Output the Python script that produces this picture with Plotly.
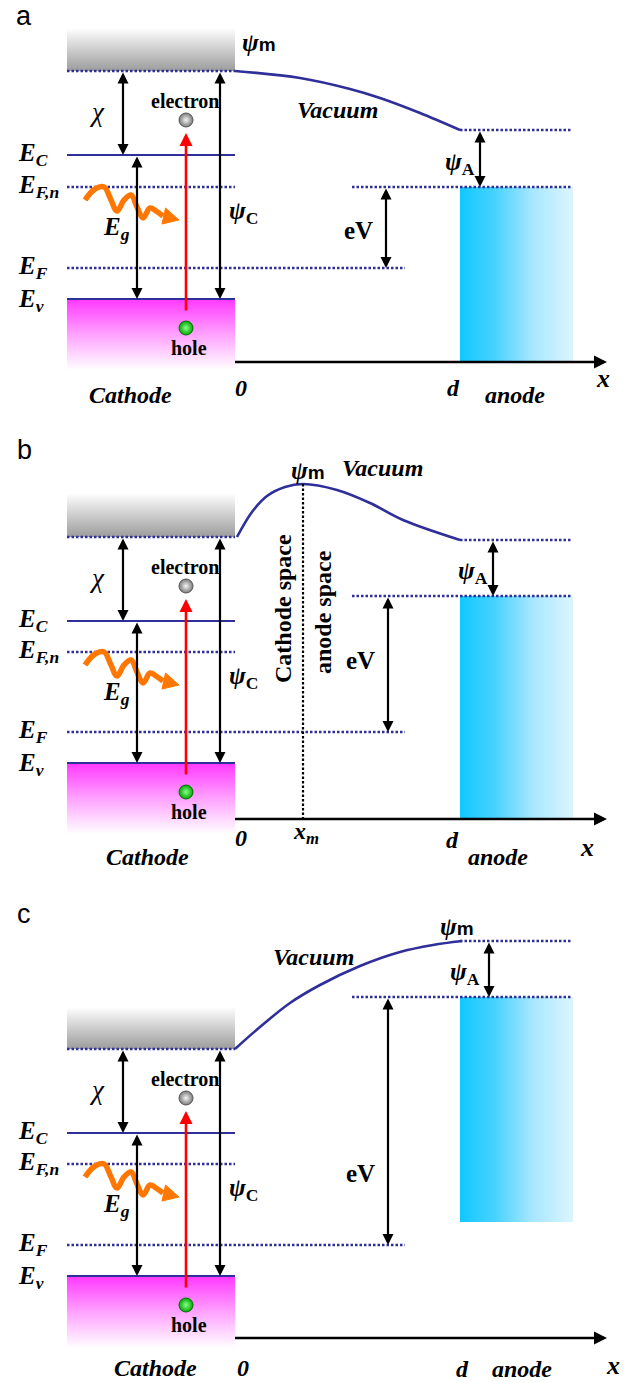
import plotly.graph_objects as go

W, H = 633, 1383
SERIF = "Liberation Serif, Times New Roman, serif"
SANS = "Liberation Sans, Arial, sans-serif"

# ---------------- data (diagram coordinates, y grows downward) ----------------
PANEL_LABELS = ["a", "b", "c"]
PANEL_LABEL_TOP = [0, 434, 898]

GRAY_TOP = [28, 493, 1007]
VAC_C = [71, 537, 1049]        # cathode vacuum level
E_C = [155, 621, 1133]         # conduction band
E_FN = [187, 652, 1164]        # quasi Fermi level
E_F = [268, 732, 1245]         # Fermi level
E_V = [299, 763, 1276]         # valence band
CATH_BOT = [370, 834, 1348]
VAC_A = [130, 540, 941]        # anode vacuum level
ANODE_TOP = [187, 596, 997]    # anode Fermi level
ANODE_BOT = [362, 818, 1222]
AXIS_Y = [362, 819, 1338]

CATH_X = [67, 235]
ANODE_X = [460, 573]
EF_END_X = 405
ANODE_LINE_X = [352, 572]
AXIS_X = [235, 607]

VAC_CURVE_X = [
    [235, 300, 350, 380, 420, 460],
    [237, 252, 267, 285, 303, 337, 370, 403, 460],
    [235, 260, 290, 320, 360, 400, 433, 462],
]
VAC_CURVE_Y = [
    [71, 78, 89, 98, 113, 130],
    [537, 512, 496, 487, 484, 490, 503, 520, 540],
    [1049, 1027, 1003, 985, 966, 952, 945, 941],
]

XM = 303
PSI_A_ARROW_X = [480, 493, 489]
PSI_A_LABEL = [(460, 163), (473, 572), (465, 973)]
EV_ARROW_X = [386, 388, 388]
EV_LABEL = [(358, 230), (360, 660), (360, 1173)]
PSI_M_LABEL = [(259, 42), (308, 470), (457, 926)]
VACUUM_LABEL = [(337, 110), (382, 468), (313, 957)]
D_LABEL = [(453, 388), (452, 840), (462, 1371)]
ANODE_LABEL = [(515, 395), (498, 857), (522, 1371)]
X_LABEL = [(603, 378), (587, 847), (613, 1365)]
ZERO_LABEL = [(241, 388), (241, 838), (243, 1368)]
CATHODE_LABEL = [(130, 395), (147, 857), (155, 1368)]

CHI_X, EG_X, RED_X, PSIC_X = 123, 137, 186, 220

# photon wave: x positions and offsets relative to E_F,n
WAVE_X = [85, 95, 104, 111, 117, 124, 131, 137, 143, 150, 156, 163]
WAVE_DY = [13, 2, 0, 13, 24, 13, 8, 20, 31, 21, 24, 29]
WAVE_HEAD_X = [179, 165.5, 162]
WAVE_HEAD_DY = [33, 21, 37]

BLUE = "#2f2f9a"
ORANGE = "#ff7700"

fig = go.Figure()
ann = []


def arrow(x0, y0, x1, y1, color="black", width=2.2, both=False, size=1.0):
    ann.append(dict(
        x=x1, y=y1, ax=x0, ay=y0, xref="x", yref="y", axref="x", ayref="y",
        showarrow=True, arrowhead=2, arrowsize=size, arrowwidth=width,
        arrowcolor=color, arrowside="end+start" if both else "end",
        startarrowhead=2, startarrowsize=size, text="", standoff=0, startstandoff=0))


def txt(x, y, s, size, family=SERIF, color="black", angle=0, xanchor="center",
        yanchor="middle"):
    ann.append(dict(x=x, y=y, xref="x", yref="y", text=s, showarrow=False,
                    font=dict(family=family, size=size, color=color),
                    textangle=angle, xanchor=xanchor, yanchor=yanchor, borderpad=0))


def hline(x0, x1, y, color=BLUE, width=2, dash="solid"):
    fig.add_trace(go.Scatter(x=[x0, x1], y=[y, y], mode="lines",
                             line=dict(color=color, width=width, dash=dash),
                             hoverinfo="skip"))


def grad_rect(x0, x1, y0, y1, kind, scale, start, stop):
    fig.add_trace(go.Scatter(x=[x0, x1, x1, x0, x0], y=[y0, y0, y1, y1, y0],
                             mode="lines", fill="toself", line=dict(width=0),
                             fillgradient=dict(type=kind, colorscale=scale,
                                               start=start, stop=stop),
                             hoverinfo="skip"))


DOT = "2.5px,2px"

for i in range(3):
    # panel letter
    txt(24, PANEL_LABEL_TOP[i], PANEL_LABELS[i], 27, family=SANS, yanchor="top")

    # gray metal-like vacuum block
    grad_rect(CATH_X[0], CATH_X[1], GRAY_TOP[i], VAC_C[i], "vertical",
              [[0, "#ffffff"], [1, "#9c9c9c"]], GRAY_TOP[i], VAC_C[i])
    # magenta valence block
    grad_rect(CATH_X[0], CATH_X[1], E_V[i], CATH_BOT[i], "vertical",
              [[0, "#ff38ff"], [0.5, "#ffa2ff"], [1, "#ffffff"]], E_V[i], CATH_BOT[i])
    # anode block
    grad_rect(ANODE_X[0], ANODE_X[1], ANODE_TOP[i], ANODE_BOT[i], "horizontal",
              [[0, "#12c8ff"], [0.3, "#45d2ff"], [0.65, "#a9e7ff"], [1, "#dcf5fe"]],
              ANODE_X[0], ANODE_X[1])

    # levels
    hline(CATH_X[0], CATH_X[1], VAC_C[i], width=2.5, dash=DOT)
    hline(CATH_X[0], CATH_X[1], E_C[i], width=2.2)
    hline(CATH_X[0], CATH_X[1], E_FN[i], width=2.5, dash=DOT)
    hline(CATH_X[0], EF_END_X, E_F[i], width=2.5, dash=DOT)
    hline(CATH_X[0], CATH_X[1], E_V[i], width=2.2)
    hline(ANODE_X[0], ANODE_LINE_X[1], VAC_A[i], width=2.5, dash=DOT)
    hline(ANODE_LINE_X[0], ANODE_LINE_X[1], ANODE_TOP[i], width=2.5, dash=DOT)

    # vacuum curve
    fig.add_trace(go.Scatter(x=VAC_CURVE_X[i], y=VAC_CURVE_Y[i], mode="lines",
                             line=dict(color=BLUE, width=2.6, shape="spline", smoothing=1.0),
                             hoverinfo="skip"))

    # x axis
    hline(AXIS_X[0], AXIS_X[1] - 6, AXIS_Y[i], color="black", width=2.6)
    arrow(AXIS_X[1] - 10, AXIS_Y[i], AXIS_X[1], AXIS_Y[i], width=2.6, size=1.0)

    # cathode arrows
    arrow(CHI_X, VAC_C[i], CHI_X, E_C[i], both=True)
    arrow(EG_X, E_C[i], EG_X, E_V[i], both=True)
    arrow(PSIC_X, VAC_C[i], PSIC_X, E_V[i], both=True)
    arrow(RED_X, E_V[i] + 13, RED_X, E_C[i] - 22, color="#ff0000", width=2.6)

    # anode arrows
    arrow(PSI_A_ARROW_X[i], VAC_A[i], PSI_A_ARROW_X[i], ANODE_TOP[i], both=True)
    arrow(EV_ARROW_X[i], ANODE_TOP[i], EV_ARROW_X[i], E_F[i], both=True)

    # photon wave
    fig.add_trace(go.Scatter(x=WAVE_X, y=[E_FN[i] + d for d in WAVE_DY], mode="lines",
                             line=dict(color=ORANGE, width=5.5, shape="spline", smoothing=1.1),
                             hoverinfo="skip"))
    fig.add_trace(go.Scatter(x=WAVE_HEAD_X + WAVE_HEAD_X[:1],
                             y=[E_FN[i] + d for d in WAVE_HEAD_DY + WAVE_HEAD_DY[:1]],
                             mode="lines", fill="toself", fillcolor=ORANGE,
                             line=dict(color=ORANGE, width=1), hoverinfo="skip"))

    # electron and hole
    fig.add_trace(go.Scatter(x=[RED_X], y=[E_C[i] - 35], mode="markers",
                             marker=dict(size=14, color="#7a7a7a",
                                         gradient=dict(type="radial", color="#f4f4f4"),
                                         line=dict(color="#555555", width=1)),
                             hoverinfo="skip"))
    fig.add_trace(go.Scatter(x=[RED_X], y=[E_V[i] + 29], mode="markers",
                             marker=dict(size=14, color="#00a800",
                                         gradient=dict(type="radial", color="#8aff8a"),
                                         line=dict(color="#007000", width=1)),
                             hoverinfo="skip"))

    # texts
    txt(185, E_C[i] - 54, "<b>electron</b>", 20)
    txt(189, E_V[i] + 49, "<b>hole</b>", 20)
    txt(97, (VAC_C[i] + E_C[i]) / 2 - 1, "<i>χ</i>", 27)
    txt(17, E_C[i] - 1, "<b><i>E<sub>C</sub></i></b>", 25, xanchor="left")
    txt(17, E_FN[i] - 1, "<b><i>E<sub>F,n</sub></i></b>", 25, xanchor="left")
    txt(17, E_F[i] - 1, "<b><i>E<sub>F</sub></i></b>", 25, xanchor="left")
    txt(17, E_V[i] + 1, "<b><i>E<sub>v</sub></i></b>", 25, xanchor="left")
    txt(116, E_FN[i] + 41, "<b><i>E<sub>g</sub></i></b>", 25)
    txt(243, E_FN[i] + 25, "<b><i>ψ</i><sub>C</sub></b>", 25)
    txt(PSI_A_LABEL[i][0], PSI_A_LABEL[i][1], "<b><i>ψ</i><sub>A</sub></b>", 25)
    txt(PSI_M_LABEL[i][0], PSI_M_LABEL[i][1],
        "<b><i>ψ</i><span style='font-family:Liberation Sans;font-size:19px'>m</span></b>", 25)
    txt(EV_LABEL[i][0], EV_LABEL[i][1], "<b>eV</b>", 25)
    txt(VACUUM_LABEL[i][0], VACUUM_LABEL[i][1], "<b><i>Vacuum</i></b>", 24)
    txt(X_LABEL[i][0], X_LABEL[i][1], "<b><i>x</i></b>", 26)
    txt(ZERO_LABEL[i][0], ZERO_LABEL[i][1], "<b><i>0</i></b>", 24)
    if i < 2:
        txt(D_LABEL[i][0], D_LABEL[i][1], "<b><i>d</i></b>", 24)
        txt(ANODE_LABEL[i][0], ANODE_LABEL[i][1], "<b><i>anode</i></b>", 24)
        txt(CATHODE_LABEL[i][0], CATHODE_LABEL[i][1], "<b><i>Cathode</i></b>", 24)
    else:
        # bottom row: anchor to the figure's lower edge so the text stays inside
        txt(D_LABEL[i][0], H, "<b><i>d</i></b>", 24, yanchor="bottom")
        txt(ANODE_LABEL[i][0], H, "<b><i>anode</i></b>", 24, yanchor="bottom")
        txt(CATHODE_LABEL[i][0], H - 1, "<b><i>Cathode</i></b>", 24, yanchor="bottom")

# panel b extras
fig.add_trace(go.Scatter(x=[XM, XM], y=[VAC_CURVE_Y[1][4], AXIS_Y[1]], mode="lines",
                         line=dict(color="black", width=2.2, dash=DOT), hoverinfo="skip"))
txt(306, 833, "<b><i>x<sub>m</sub></i></b>", 24)
txt(283, 609, "<b>Cathode space</b>", 24, angle=-90)
txt(323, 612, "<b>anode space</b>", 24, angle=-90)

fig.update_layout(
    width=W, height=H, margin=dict(l=0, r=0, t=0, b=0),
    paper_bgcolor="white", plot_bgcolor="white", showlegend=False,
    xaxis=dict(range=[0, W], visible=False, fixedrange=True),
    yaxis=dict(range=[H, 0], visible=False, fixedrange=True),
    annotations=ann,
)

fig.write_html("out.html", config={"displayModeBar": False},
               post_script="document.body.style.margin='0';document.body.style.overflow='hidden';")
